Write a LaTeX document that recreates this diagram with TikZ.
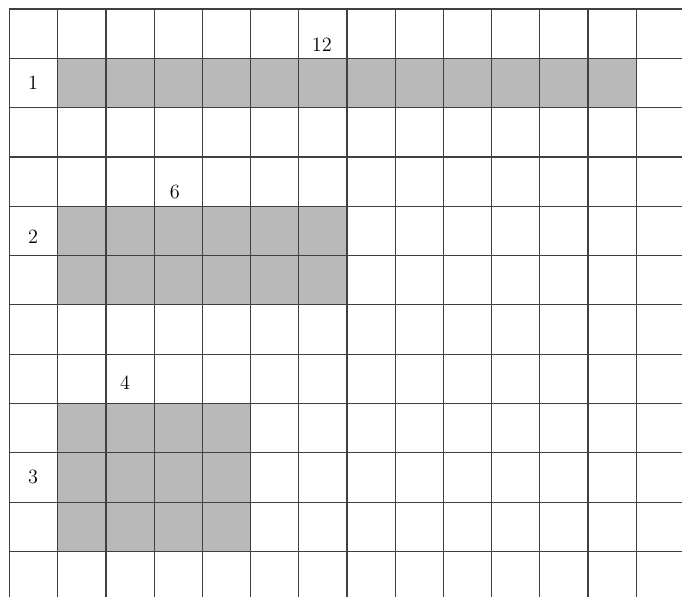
\documentclass[tikz,border=0pt]{standalone}
\usepackage{tikz}
\usetikzlibrary{positioning}
\tikzset{
  gridline/.style={draw=black!75, line width=0.85pt, line cap=rect},
  shaded/.style={fill=gray!55, draw=none},
  rowlabel/.style={font=\Large, inner sep=1pt},
  sizelabel/.style={font=\Large, inner sep=1pt}
}
\begin{document}
\begin{tikzpicture}[x=1.205cm, y=-1.2325cm]
    \useasboundingbox (-0.197,-0.183) rectangle (13.95,11.91);

    % 1. Shaded blocks
    \fill[shaded] (1,1) rectangle (13,2);
    \fill[shaded] (1,4) rectangle (7,6);
    \fill[shaded] (1,8) rectangle (5,11);

    % 2. Grid
    \foreach \i in {0,...,13} {
        \draw[gridline] (\i,0) -- (\i,11.91);
    }
    \foreach \j in {0,...,11} {
        \draw[gridline] (0,\j) -- (13.95,\j);
    }

    % 3. Row labels
    \node[rowlabel] (row1) at (0.49,1.5) {1};
    \node[rowlabel] (row2) at (0.49,4.62) {2};
    \node[rowlabel] (row3) at (0.49,9.5) {3};

    % 4. Width labels
    \node[sizelabel] (w12) at (6.48,0.73) {12};
    \node[sizelabel] (w6) at (3.43,3.71) {6};
    \node[sizelabel] (w4) at (2.40,7.57) {4};
\end{tikzpicture}
\end{document}
